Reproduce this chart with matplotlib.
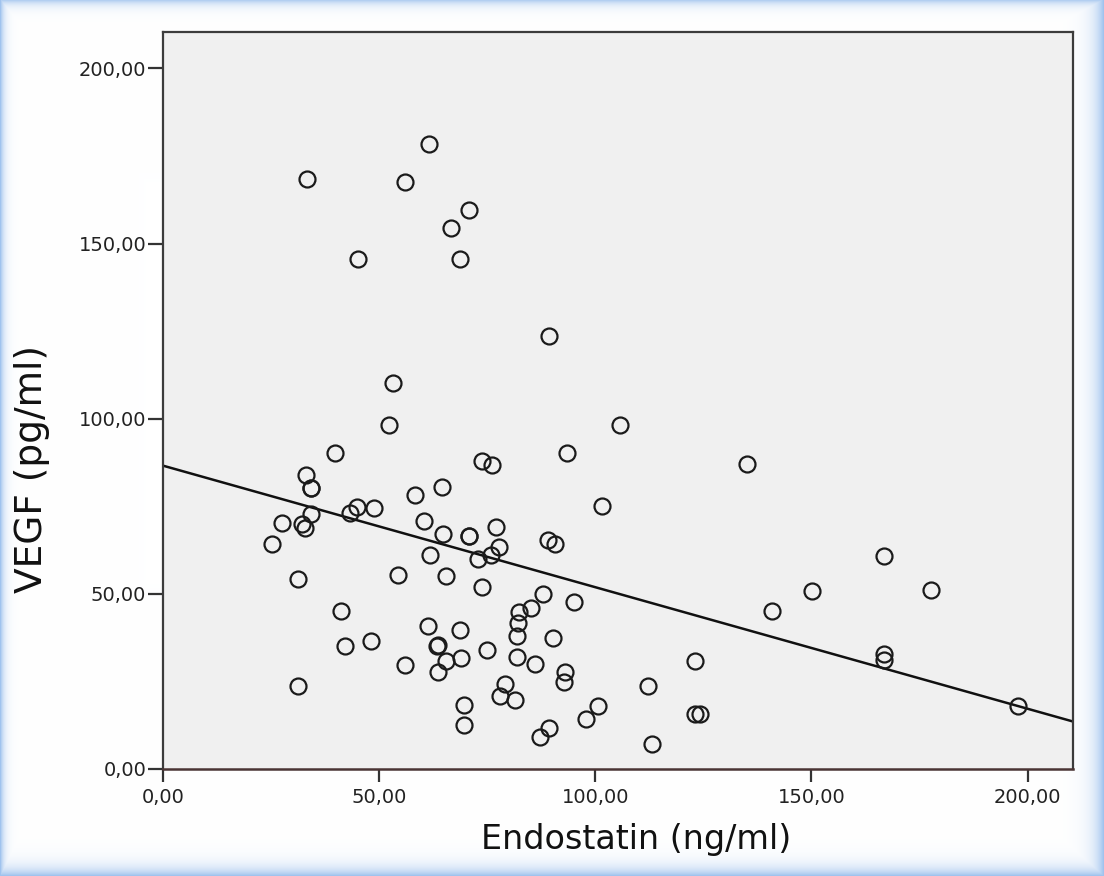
import numpy as np
import matplotlib
matplotlib.use("Agg")
import matplotlib.pyplot as plt
from matplotlib.ticker import FuncFormatter

# Endostatin (ng/ml) vs VEGF (pg/ml)
endostatin = [33.3, 61.5, 56.0, 70.8, 66.6, 45.1, 68.7, 89.2, 53.2, 52.3,
              105.7, 39.8, 93.4, 73.8, 76.0, 135.0, 33.1, 34.2, 34.2, 64.5,
              58.3, 101.5, 44.9, 48.9, 43.2, 34.2, 60.3, 27.5, 32.1, 32.8,
              77.0, 70.8, 70.8, 64.7, 89.0, 90.6, 25.1, 77.7, 61.7, 75.8,
              72.8, 166.7, 31.2, 54.3, 65.4, 73.8, 150.1, 177.6, 87.8, 95.0,
              85.1, 82.3, 41.2, 140.8, 82.1, 61.3, 68.7, 81.8, 90.2, 48.1,
              42.1, 63.6, 63.3, 75.0, 68.9, 81.8, 166.7, 166.7, 65.4, 56.0,
              86.0, 123.0, 63.6, 93.1, 92.7, 79.1, 31.2, 112.1, 77.9, 81.4,
              100.6, 69.6, 197.7, 123.0, 124.2, 97.8, 69.6, 89.2, 87.2, 113.1]
vegf = [168.5, 178.5, 167.6, 159.6, 154.4, 145.6, 145.6, 123.5, 110.3, 98.3,
        98.3, 90.3, 90.3, 88.0, 86.8, 87.1, 84.0, 80.2, 80.2, 80.5,
        78.2, 75.1, 74.8, 74.5, 73.1, 72.8, 70.8, 70.2, 69.9, 68.8,
        69.1, 66.5, 66.5, 67.0, 65.3, 64.2, 64.2, 63.3, 61.0, 61.0,
        59.9, 60.7, 54.2, 55.3, 55.0, 51.9, 50.7, 51.0, 49.9, 47.6,
        46.1, 44.7, 45.0, 45.0, 41.8, 40.7, 39.8, 38.1, 37.5, 36.4,
        35.0, 35.5, 35.0, 34.1, 31.8, 32.1, 32.7, 31.2, 30.7, 29.8,
        30.1, 30.7, 27.8, 27.8, 24.9, 24.4, 23.8, 23.8, 20.9, 19.8,
        18.1, 18.3, 18.1, 15.8, 15.8, 14.3, 12.6, 11.7, 9.2, 7.2]

# fit line as drawn in the original
fit_intercept = 86.6
fit_slope = -0.347

x_ticks = [0, 50, 100, 150, 200]
y_ticks = [0, 50, 100, 150, 200]
x_max = 210.5
y_max = 210.4

W, H = 1104, 876
fig = plt.figure(figsize=(W / 100, H / 100), dpi=100)

# soft blue frame around the picture
bg = fig.add_axes([0, 0, 1, 1], zorder=-5)
yy, xx = np.mgrid[0:H, 0:W].astype(float)
glow = np.maximum.reduce([
    np.exp(-xx / 4.0),
    0.8 * np.exp(-yy / 5.0),
    np.exp(-(W - 1 - xx) / 9.0),
    np.exp(-(H - 1 - yy) / 8.0),
])
blue = np.array([160, 195, 238]) / 255.0
img = 1 - glow[..., None] * (1 - blue)
bg.imshow(img, aspect="auto", extent=[0, 1, 0, 1], interpolation="bilinear")
bg.axis("off")

ax = fig.add_axes([163 / W, 1 - 769 / H, 910 / W, 737 / H])
ax.set_facecolor("#f0f0f0")

ax.plot(endostatin, vegf, linestyle="none", marker="o", markersize=11.5,
        markerfacecolor="none", markeredgecolor="#1a1a1a", markeredgewidth=1.6,
        zorder=3)

xs = np.array([0, x_max])
ax.plot(xs, fit_intercept + fit_slope * xs, color="#111111", linewidth=1.8,
        zorder=2)

ax.set_xlim(0, x_max)
ax.set_ylim(0, y_max)
ax.set_xticks(x_ticks)
ax.set_yticks(y_ticks)
fmt = FuncFormatter(lambda v, p: f"{v:.2f}".replace(".", ","))
ax.xaxis.set_major_formatter(fmt)
ax.yaxis.set_major_formatter(fmt)
ax.tick_params(axis="x", length=9, width=1.6, pad=5, labelsize=14,
               color="#333333", labelcolor="#222222")
ax.tick_params(axis="y", length=11, width=1.6, pad=1, labelsize=14,
               color="#333333", labelcolor="#222222")

for side in ["left", "top", "right"]:
    ax.spines[side].set_color("#3c3c3c")
    ax.spines[side].set_linewidth(1.6)
ax.spines["bottom"].set_color("#4a3434")
ax.spines["bottom"].set_linewidth(1.8)

ax.set_xlabel("Endostatin (ng/ml)", fontsize=24, color="#111111",
              va="center")
ax.xaxis.set_label_coords(0.52, -0.096)
ax.set_ylabel("VEGF (pg/ml)", fontsize=27, color="#111111", va="center")
ax.yaxis.set_label_coords(-0.144, 0.407)

fig.savefig("out.png", dpi=100)
